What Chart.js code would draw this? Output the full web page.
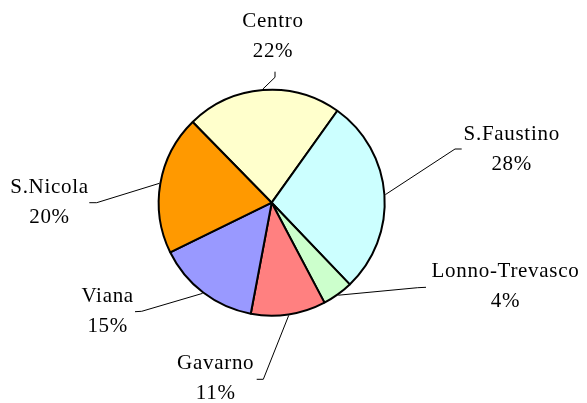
<!DOCTYPE html>
<html>
<head>
<meta charset="utf-8">
<script src="https://cdn.jsdelivr.net/npm/chart.js@4"></script>
<style>
  html, body { margin: 0; padding: 0; background: #ffffff; }
  #wrap { width: 587px; height: 403px; position: relative; }
</style>
</head>
<body>
<div id="wrap"><canvas id="c" width="587" height="403"></canvas></div>
<script>
// ---- data ----
const categories = ['Centro', 'S.Faustino', 'Lonno-Trevasco', 'Gavarno', 'Viana', 'S.Nicola'];
const shares = [22.2, 28.0, 4.4, 10.7, 14.8, 19.9];
const sliceColors = ['#FFFFCC', '#CCFFFF', '#CCFFCC', '#FF8080', '#9999FF', '#FF9900'];

// ---- label layout (offsets from pie centre, px) ----
// tx: text centre x, ty: first baseline y, ex/ey: elbow, ax/ay: attach point
const labelLayout = [
  { tx: 1.3,   ty: -175.4, ex: 3.3,    ey: -125.4, ax: 3.3,    ay: -131.0 },
  { tx: 240.0, ty: -62.7,  ex: 183.3,  ey: -53.7,  ax: 190.0,  ay: -53.7 },
  { tx: 233.8, ty: 74.6,   ex: 146.0,  ey: 85.0,   ax: 154.3,  ay: 84.6 },
  { tx: -56.0, ty: 166.6,  ex: -8.4,   ey: 176.6,  ax: -15.0,  ay: 176.6 },
  { tx: -164.0,ty: 99.0,   ex: -130.0, ey: 108.6,  ax: -136.7, ay: 109.0 },
  { tx: -222.2,ty: -9.4,   ex: -175.0, ey: 0.0,    ax: -182.4, ay: 0.0 }
];

const total = shares.reduce((a, b) => a + b, 0);

const leaderLabels = {
  id: 'leaderLabels',
  afterDatasetsDraw(chart) {
    const ctx = chart.ctx;
    const meta = chart.getDatasetMeta(0);
    ctx.save();
    ctx.font = '21px "Liberation Serif", "Times New Roman", serif';
    if ('letterSpacing' in ctx) ctx.letterSpacing = '0.7px';
    ctx.fillStyle = '#000';
    ctx.strokeStyle = '#000';
    ctx.lineWidth = 1;
    ctx.textAlign = 'center';
    ctx.textBaseline = 'alphabetic';
    meta.data.forEach((arc, i) => {
      const p = arc.getProps(['x', 'y', 'startAngle', 'endAngle', 'outerRadius'], true);
      const mid = (p.startAngle + p.endAngle) / 2;
      const r = p.outerRadius + 1;
      const sx = p.x + r * Math.cos(mid);
      const sy = p.y + r * Math.sin(mid);
      const L = labelLayout[i];
      ctx.beginPath();
      ctx.moveTo(sx, sy);
      ctx.lineTo(p.x + L.ex, p.y + L.ey);
      ctx.lineTo(p.x + L.ax, p.y + L.ay);
      ctx.stroke();
      const pct = Math.round(shares[i] / total * 100) + '%';
      ctx.fillText(categories[i], p.x + L.tx, p.y + L.ty);
      ctx.fillText(pct, p.x + L.tx, p.y + L.ty + 30);
    });
    ctx.restore();
  }
};

new Chart(document.getElementById('c'), {
  type: 'pie',
  data: {
    labels: categories,
    datasets: [{
      data: shares,
      backgroundColor: sliceColors,
      borderColor: '#000000',
      borderWidth: 2
    }]
  },
  options: {
    responsive: false,
    animation: false,
    rotation: -44.4,
    layout: { padding: { top: 88.7, bottom: 86.3, left: 157.7, right: 201.3 } },
    plugins: {
      legend: { display: false },
      tooltip: { enabled: false }
    }
  },
  plugins: [leaderLabels]
});
</script>
</body>
</html>
